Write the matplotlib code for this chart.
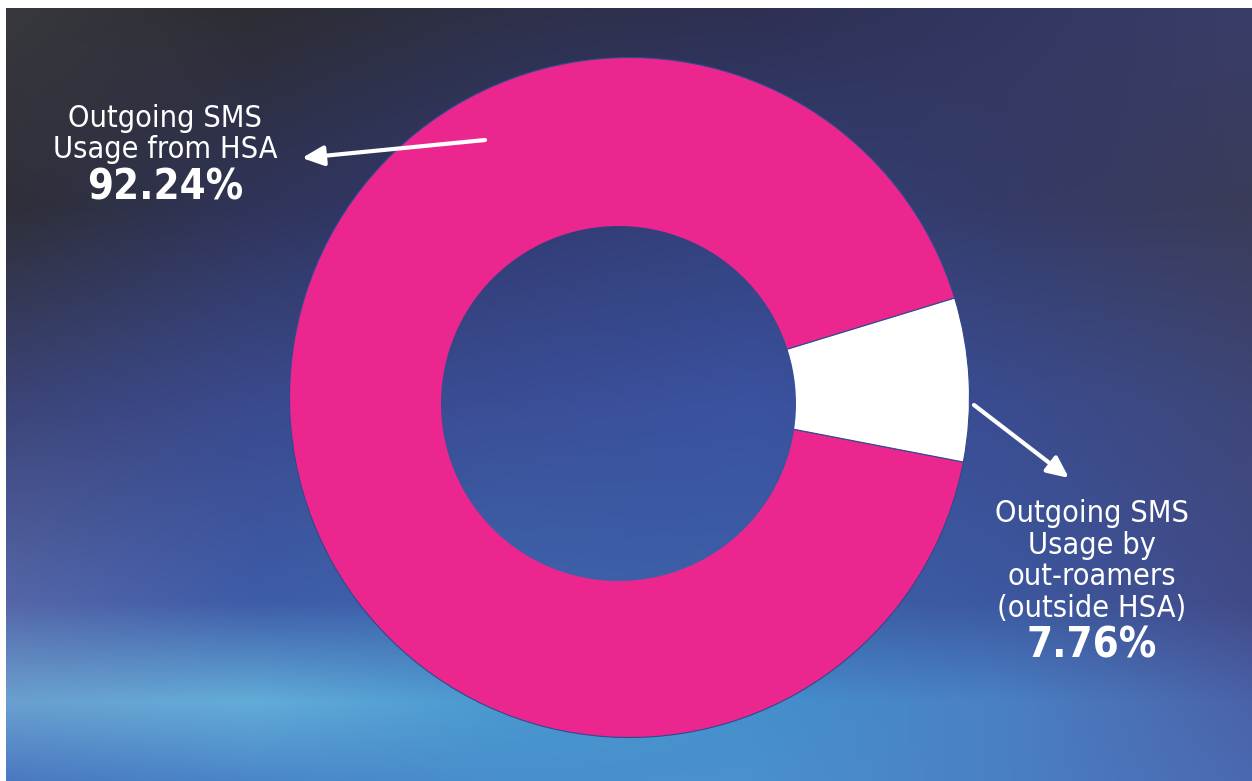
import numpy as np
import matplotlib
matplotlib.use('Agg')
import matplotlib.pyplot as plt
from matplotlib.patches import Circle

plt.rcParams['font.family'] = ['DejaVu Sans']

# 数据
labels = ['Outgoing SMS\nUsage from HSA', 'Outgoing SMS\nUsage by\nout-roamers\n(outside HSA)']
values = [92.24, 7.76]
colors = ['#EC268F', '#FFFFFF']

W, H = 1252, 781

# 背景渐变 (装饰)
def hexrgb(h):
    h = h.lstrip('#')
    return [int(h[i:i + 2], 16) / 255 for i in (0, 2, 4)]

grid_x = [0, 250, 500, 750, 1000, 1252]
grid_y = [0, 200, 400, 600, 700, 781]
grid_c = [
    ['#38393e', '#2c2d33', '#2e3048', '#2e3052', '#333660', '#3a3d68'],
    ['#2e2f38', '#30345a', '#313a70', '#33407a', '#353b68', '#3a3c58'],
    ['#3c4478', '#3a4a8e', '#3a4e96', '#3a52a0', '#3a4c90', '#3e4678'],
    ['#5566a8', '#3e5ca8', '#3e64ac', '#3d5fa8', '#3c58a0', '#424a88'],
    ['#6aa0d0', '#62acd8', '#4a98d0', '#4490cc', '#4a80c4', '#4a62a8'],
    ['#4a78c0', '#4a86c8', '#4890cc', '#4a90ce', '#4a80c4', '#4a68b0'],
]
gc = np.array([[hexrgb(c) for c in row] for row in grid_c])
xs = np.arange(W)
ys = np.arange(H)
tmp = np.zeros((len(grid_y), W, 3))
for i in range(len(grid_y)):
    for k in range(3):
        tmp[i, :, k] = np.interp(xs, grid_x, gc[i, :, k])
bg = np.zeros((H, W, 3))
for j in range(W):
    for k in range(3):
        bg[:, j, k] = np.interp(ys, grid_y, tmp[:, j, k])

fig = plt.figure(figsize=(12.52, 7.81), dpi=100, facecolor='white')
ax = fig.add_axes([0, 0, 1, 1])
ax.set_xlim(0, W)
ax.set_ylim(0, H)
ax.axis('off')

ext = (6, W, 0, H - 8)
ax.imshow(bg, extent=ext, origin='upper', zorder=0, aspect='auto')

ax.pie(values, colors=colors, startangle=17, counterclock=True,
       center=(629.5, H - 397.5), radius=340, frame=True,
       wedgeprops=dict(edgecolor='#2f4a8c', linewidth=0.8))

# 中间的洞 (略微偏移)
hole = Circle((618.5, H - 403.5), 177.5, transform=ax.transData)
im2 = ax.imshow(bg, extent=ext, origin='upper', zorder=5, aspect='auto')
im2.set_clip_path(hole)

ax.set_xlim(0, W)
ax.set_ylim(0, H)
ax.set_aspect('auto')
ax.axis('off')

# 标签
fs_lab = 22
fs_pct = 30
ax.text(165, H - 134, labels[0], ha='center', va='center', color='white',
        fontsize=fs_lab, fontstretch='condensed', linespacing=1.12, zorder=10)
ax.text(165, H - 188, f'{values[0]:.2f}%', ha='center', va='center', color='white',
        fontsize=fs_pct, fontweight='bold', fontstretch='condensed', zorder=10)
ax.text(1092, H - 561, labels[1], ha='center', va='center', color='white',
        fontsize=fs_lab, fontstretch='condensed', linespacing=1.12, zorder=10)
ax.text(1092, H - 645, f'{values[1]:.2f}%', ha='center', va='center', color='white',
        fontsize=fs_pct, fontweight='bold', fontstretch='condensed', zorder=10)

# 箭头
arrow = dict(arrowstyle='-|>,head_length=1.3,head_width=0.6', color='white', lw=3,
             shrinkA=0, shrinkB=0)
ax.annotate('', xy=(302, H - 158), xytext=(485, H - 140), arrowprops=arrow, zorder=10)
ax.annotate('', xy=(1069, H - 478), xytext=(974, H - 405), arrowprops=arrow, zorder=10)

fig.savefig('out.png', dpi=100)
